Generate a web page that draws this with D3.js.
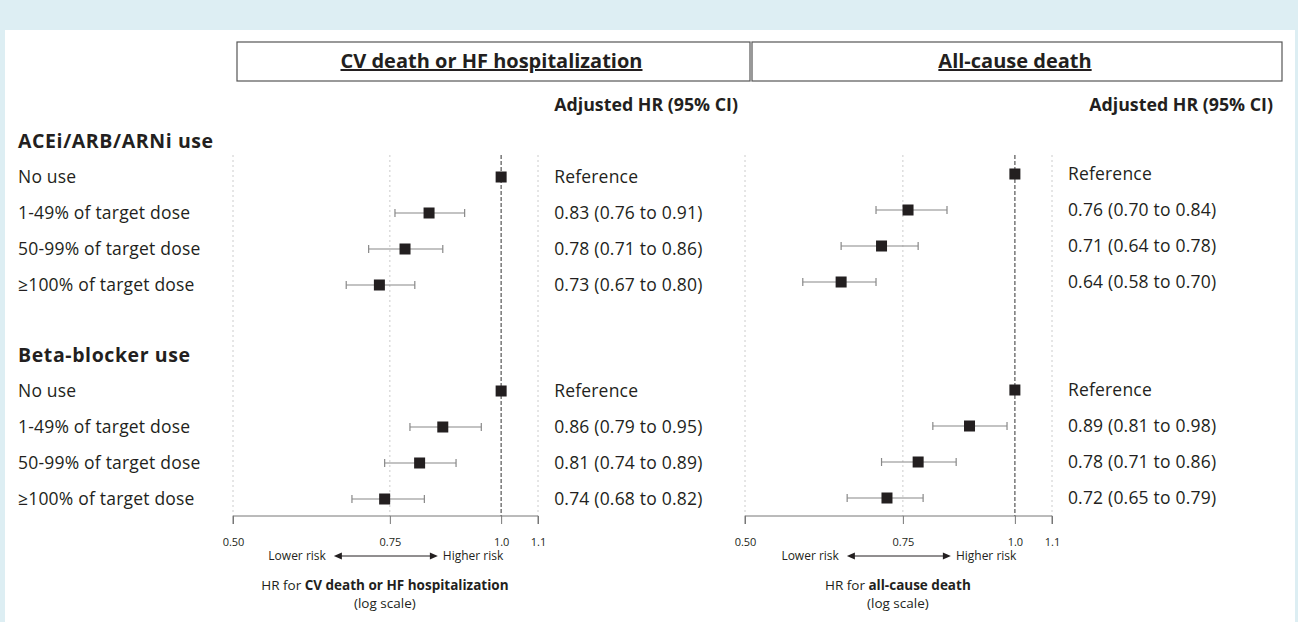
<!DOCTYPE html>
<html>
<head>
<meta charset="utf-8">
<script src="https://cdn.jsdelivr.net/npm/d3@7"></script>
<style>
  body { margin: 0; background: #ddeef3; }
  text { font-family: "Open Sans", "Noto Sans", sans-serif; fill: #231f20; }
</style>
</head>
<body>
<div id="chart"></div>
<script>
// --- data ---
var groups = ["ACEi/ARB/ARNi use", "Beta-blocker use"];
var rowLabels = ["No use", "1-49% of target dose", "50-99% of target dose", "\u2265100% of target dose"];
var panelTitles = ["CV death or HF hospitalization", "All-cause death"];
var axisBold = ["CV death or HF hospitalization", "all-cause death"];
var tickValues = [0.5, 0.75, 1.0, 1.1];
var tickLabels = ["0.50", "0.75", "1.0", "1.1"];

// hazard ratios, [group][row]; row 0 is the reference
var cvHR = [[1, 0.83, 0.78, 0.73], [1, 0.86, 0.81, 0.74]];
var cvLo = [[null, 0.76, 0.71, 0.67], [null, 0.79, 0.74, 0.68]];
var cvHi = [[null, 0.91, 0.86, 0.80], [null, 0.95, 0.89, 0.82]];
var acdHR = [[1, 0.76, 0.71, 0.64], [1, 0.89, 0.78, 0.72]];
var acdLo = [[null, 0.70, 0.64, 0.58], [null, 0.81, 0.71, 0.65]];
var acdHi = [[null, 0.84, 0.78, 0.70], [null, 0.98, 0.86, 0.79]];

var W = 1298, H = 622;
var svg = d3.select("#chart").append("svg").attr("width", W).attr("height", H);

// white card on blue background
svg.append("rect").attr("x", 5).attr("y", 30).attr("width", 1290).attr("height", H - 30).attr("fill", "#fff");

var groupTop = [141, 355];   // y of group header
var rowStep = 36;
var fmt = d3.format(".2f");

function rowY(g, r) { return groupTop[g] + rowStep * (r + 1); }

// left labels
groups.forEach(function(g, gi) {
  svg.append("text").attr("x", 18).attr("y", groupTop[gi]).attr("dy", "0.35em")
    .attr("font-size", 19.5).attr("letter-spacing", 0.6).attr("font-weight", "bold").text(g);
  rowLabels.forEach(function(l, ri) {
    svg.append("text").attr("x", 18).attr("y", rowY(gi, ri)).attr("dy", "0.35em")
      .attr("font-size", 17.5).attr("letter-spacing", 0.2).text(l);
  });
});

var panels = [
  { x0: 233, x1: 538, box: [237, 750], hdrEnd: 738, hr: cvHR, lo: cvLo, hi: cvHi, dy: [0, 0], title: panelTitles[0], bold: axisBold[0] },
  { x0: 745, x1: 1052, box: [752, 1282], hdrEnd: 1273, hr: acdHR, lo: acdLo, hi: acdHi, dy: [-3, -1], title: panelTitles[1], bold: axisBold[1] }
];

var axisY = 516;

panels.forEach(function(p) {
  var x = d3.scaleLog().domain([0.5, 1.1]).range([p.x0, p.x1]);
  var g = svg.append("g");

  // header box
  g.append("rect").attr("x", p.box[0]).attr("y", 42).attr("width", p.box[1] - p.box[0]).attr("height", 39)
    .attr("fill", "#fff").attr("stroke", "#555").attr("stroke-width", 1.2);
  g.append("text").attr("x", (p.box[0] + p.box[1]) / 2 - 2).attr("y", 61).attr("dy", "0.35em")
    .attr("text-anchor", "middle").attr("font-size", 20).attr("font-weight", "bold")
    .attr("text-decoration", "underline").text(p.title);

  g.append("text").attr("x", p.hdrEnd).attr("y", 105).attr("dy", "0.35em")
    .attr("text-anchor", "end").attr("font-size", 17.8).attr("font-weight", "bold").text("Adjusted HR (95% CI)");

  // grid lines
  tickValues.forEach(function(t) {
    g.append("line").attr("x1", x(t)).attr("x2", x(t)).attr("y1", 155).attr("y2", axisY)
      .attr("stroke", t === 1 ? "#555" : "#ccc")
      .attr("stroke-width", t === 1 ? 1.2 : 1)
      .attr("stroke-dasharray", t === 1 ? "4,2" : "2,3");
  });

  // axis
  var axis = d3.axisBottom(x).tickValues(tickValues)
    .tickFormat(function(d, i) { return tickLabels[i]; }).tickSize(8).tickPadding(14);
  var ag = g.append("g").attr("transform", "translate(0," + axisY + ")").call(axis);
  ag.select(".domain").attr("stroke", "#777").attr("d", "M" + p.x0 + ",8V0H" + p.x1 + "V8");
  ag.selectAll(".tick line").attr("stroke", "#777");
  ag.selectAll(".tick text").attr("font-size", 11).attr("fill", "#231f20")
    .attr("font-family", "'Open Sans', sans-serif");

  // lower/higher risk arrow
  var cx = x(0.75) - 4, ay = 556;
  g.append("line").attr("x1", cx - 46).attr("x2", cx + 46).attr("y1", ay).attr("y2", ay)
    .attr("stroke", "#231f20").attr("stroke-width", 1);
  g.append("path").attr("d", "M" + (cx - 52) + "," + ay + "l8,-3.5v7z").attr("fill", "#231f20");
  g.append("path").attr("d", "M" + (cx + 52) + "," + ay + "l-8,-3.5v7z").attr("fill", "#231f20");
  g.append("text").attr("x", cx - 60).attr("y", ay).attr("dy", "0.35em").attr("text-anchor", "end")
    .attr("font-size", 12).text("Lower risk");
  g.append("text").attr("x", cx + 57).attr("y", ay).attr("dy", "0.35em")
    .attr("font-size", 12).text("Higher risk");

  var lab = g.append("text").attr("x", cx - 1).attr("y", 585).attr("dy", "0.35em")
    .attr("text-anchor", "middle").attr("font-size", 13.5);
  lab.append("tspan").text("HR for ");
  lab.append("tspan").attr("font-weight", "bold").text(p.bold);
  g.append("text").attr("x", cx - 1).attr("y", 603).attr("dy", "0.35em")
    .attr("text-anchor", "middle").attr("font-size", 13.5).text("(log scale)");

  // estimates
  groups.forEach(function(gn, gi) {
    rowLabels.forEach(function(rl, ri) {
      var y = rowY(gi, ri) + p.dy[gi];
      var hr = p.hr[gi][ri], lo = p.lo[gi][ri], hi = p.hi[gi][ri];
      if (lo !== null) {
        g.append("line").attr("x1", x(lo)).attr("x2", x(hi)).attr("y1", y).attr("y2", y)
          .attr("stroke", "#888").attr("stroke-width", 1.2);
        [lo, hi].forEach(function(v) {
          g.append("line").attr("x1", x(v)).attr("x2", x(v)).attr("y1", y - 4).attr("y2", y + 4)
            .attr("stroke", "#888").attr("stroke-width", 1.2);
        });
      }
      g.append("rect").attr("x", x(hr) - 5.5).attr("y", y - 5.5).attr("width", 11).attr("height", 11)
        .attr("fill", "#231f20");
      g.append("text").attr("x", x(1.0) + 53).attr("y", y).attr("dy", "0.35em")
        .attr("font-size", 17.5).attr("letter-spacing", 0.2)
        .text(lo === null ? "Reference" : fmt(hr) + " (" + fmt(lo) + " to " + fmt(hi) + ")");
    });
  });
});
</script>
</body>
</html>
